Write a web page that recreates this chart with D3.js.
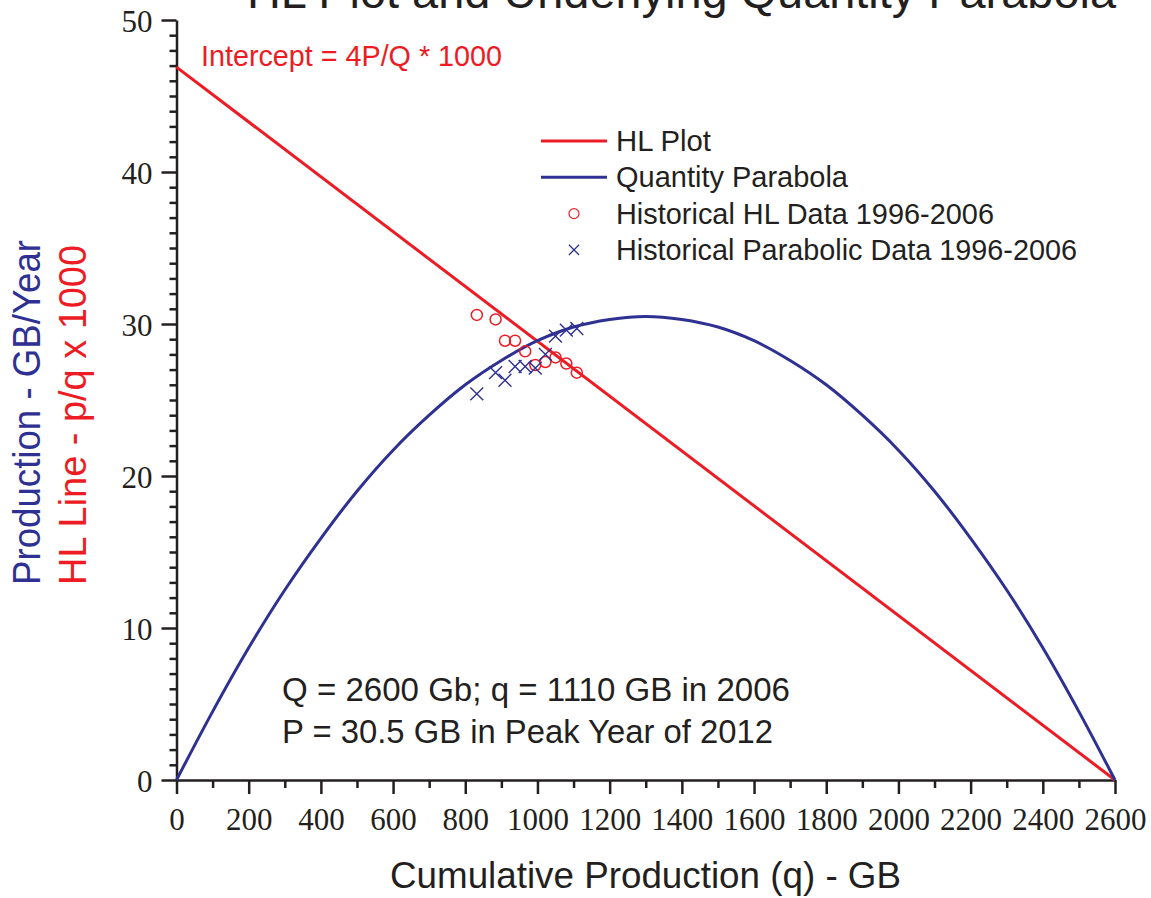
<!DOCTYPE html>
<html>
<head>
<meta charset="utf-8">
<script src="https://d3js.org/d3.v7.min.js"></script>
<style>
body { margin: 0; background: #fff; }
svg { display: block; }
.sans { font-family: "Liberation Sans", Arial, Helvetica, sans-serif; }
.axis path, .axis line { stroke: #231f20; stroke-width: 2.5; }
.axis text { fill: #231f20; font-family: "Liberation Serif", "Times New Roman", serif; font-size: 31px; }
</style>
</head>
<body>
<div id="chart"></div>
<script>
// historical data 1996-2006
var qHist = [832, 884, 910, 938, 966, 994, 1022, 1050, 1080, 1109];
var hlHist = [30.6, 30.3, 28.9, 28.9, 28.2, 27.3, 27.5, 27.8, 27.4, 26.8];
var prodHist = [25.4, 26.8, 26.3, 27.2, 27.2, 27.1, 28.0, 29.2, 29.6, 29.7];

// HL line end points
var hlLineQ = [0, 2600];
var hlLineY = [46.9, 0];

// quantity parabola, read every 100 GB
var parQ = [0, 100, 200, 300, 400, 500, 600, 700, 800, 900, 1000, 1100, 1200, 1300,
            1400, 1500, 1600, 1700, 1800, 1900, 2000, 2100, 2200, 2300, 2400, 2500, 2600];
var parP = [0, 4.5, 8.7, 12.5, 15.9, 19.0, 21.7, 24.0, 26.0, 27.6, 28.9, 29.8, 30.3, 30.5,
            30.3, 29.8, 28.9, 27.6, 26.0, 24.0, 21.7, 19.0, 15.9, 12.5, 8.7, 4.5, 0];

var xTicks = [0, 200, 400, 600, 800, 1000, 1200, 1400, 1600, 1800, 2000, 2200, 2400, 2600];
var yTicks = [0, 10, 20, 30, 40, 50];

var legendNames = ["HL Plot", "Quantity Parabola", "Historical HL Data 1996-2006", "Historical Parabolic Data 1996-2006"];

var RED = "#ed1c24", BLUE = "#2e3192", INK = "#231f20";

var svg = d3.select("#chart").append("svg")
    .attr("width", 1151)
    .attr("height", 898);

var x = d3.scaleLinear().domain([0, 2600]).range([176.5, 1115]);
var y = d3.scaleLinear().domain([0, 50]).range([780, 20]);

// minor ticks first, then major with labels
svg.append("g").attr("class", "axis").attr("transform", "translate(0,780)")
    .call(d3.axisBottom(x).tickValues(d3.range(100, 2600, 200)).tickSize(8).tickSizeOuter(0).tickFormat(""))
    .select(".domain").remove();
svg.append("g").attr("class", "axis").attr("transform", "translate(176.5,0)")
    .call(d3.axisLeft(y).tickValues(d3.range(0, 51, 1).filter(function(d){ return d % 10 != 0; })).tickSize(7).tickSizeOuter(0).tickFormat(""))
    .select(".domain").remove();

var xAxis = svg.append("g").attr("class", "axis").attr("transform", "translate(0,780)")
    .call(d3.axisBottom(x).tickValues(xTicks).tickSize(14).tickSizeOuter(0).tickPadding(14).tickFormat(d3.format("d")));
var yAxis = svg.append("g").attr("class", "axis").attr("transform", "translate(176.5,0)")
    .call(d3.axisLeft(y).tickValues(yTicks).tickSize(15).tickSizeOuter(0).tickPadding(9).tickFormat(d3.format("d")));
xAxis.selectAll("text").attr("dy", "0.71em");
yAxis.selectAll("text").attr("dy", "0.36em");

// lines
var line = d3.line().x(function(d){ return x(d[0]); }).y(function(d){ return y(d[1]); });

svg.append("path")
    .attr("d", line(d3.zip(hlLineQ, hlLineY)))
    .attr("fill", "none").attr("stroke", RED).attr("stroke-width", 3);

svg.append("path")
    .attr("d", line.curve(d3.curveCatmullRom)(d3.zip(parQ, parP)))
    .attr("fill", "none").attr("stroke", BLUE).attr("stroke-width", 3);

// historical points
svg.selectAll(".hl").data(d3.zip(qHist, hlHist)).enter().append("circle")
    .attr("class", "hl")
    .attr("cx", function(d){ return x(d[0]); })
    .attr("cy", function(d){ return y(d[1]); })
    .attr("r", 5.5)
    .attr("fill", "none").attr("stroke", RED).attr("stroke-width", 1.5);

var cross = d3.symbol().type(d3.symbolX).size(110);
svg.selectAll(".pr").data(d3.zip(qHist, prodHist)).enter().append("path")
    .attr("class", "pr")
    .attr("d", cross)
    .attr("transform", function(d){ return "translate(" + x(d[0]) + "," + y(d[1]) + ")"; })
    .attr("fill", "none").attr("stroke", BLUE).attr("stroke-width", 1.4);

// legend
var lg = svg.append("g").attr("class", "sans");
legendNames.forEach(function(name, i){
    var cy = 141 + i * 36.3;
    if (i < 2) {
        lg.append("line").attr("x1", 541).attr("x2", 607).attr("y1", cy).attr("y2", cy)
            .attr("stroke", i == 0 ? RED : BLUE).attr("stroke-width", 3);
    } else if (i == 2) {
        lg.append("circle").attr("cx", 574).attr("cy", cy).attr("r", 5)
            .attr("fill", "none").attr("stroke", RED).attr("stroke-width", 1.2);
    } else {
        lg.append("path").attr("d", d3.symbol().type(d3.symbolX).size(70))
            .attr("transform", "translate(574," + cy + ")")
            .attr("fill", "none").attr("stroke", BLUE).attr("stroke-width", 1.2);
    }
});
var legendWidths = [95, 232, 378, 461];
legendNames.forEach(function(name, i){
    lg.append("text").attr("x", 616).attr("y", 151 + i * 36.3)
        .attr("font-size", 29).attr("fill", INK)
        .attr("textLength", legendWidths[i]).attr("lengthAdjust", "spacingAndGlyphs")
        .text(name);
});

// title (cut at top, as in the source)
svg.append("text").attr("class", "sans")
    .attr("x", 247).attr("y", 8)
    .attr("font-size", 47).attr("fill", INK)
    .attr("textLength", 869).attr("lengthAdjust", "spacingAndGlyphs")
    .text("HL Plot and Underlying Quantity Parabola");

// intercept note
svg.append("text").attr("class", "sans")
    .attr("x", 201).attr("y", 66)
    .attr("font-size", 30).attr("fill", RED)
    .attr("textLength", 301).attr("lengthAdjust", "spacingAndGlyphs")
    .text("Intercept = 4P/Q * 1000");

// bottom notes
svg.append("text").attr("class", "sans")
    .attr("x", 282).attr("y", 701)
    .attr("font-size", 34).attr("fill", INK)
    .attr("textLength", 508).attr("lengthAdjust", "spacingAndGlyphs")
    .text("Q = 2600 Gb; q = 1110 GB in 2006");
svg.append("text").attr("class", "sans")
    .attr("x", 282).attr("y", 743)
    .attr("font-size", 34).attr("fill", INK)
    .attr("textLength", 491).attr("lengthAdjust", "spacingAndGlyphs")
    .text("P = 30.5 GB in Peak Year of 2012");

// axis titles
svg.append("text").attr("class", "sans")
    .attr("x", 390).attr("y", 888)
    .attr("font-size", 37).attr("fill", INK)
    .attr("textLength", 511).attr("lengthAdjust", "spacingAndGlyphs")
    .text("Cumulative Production (q) - GB");

svg.append("text").attr("class", "sans")
    .attr("transform", "translate(40,585) rotate(-90)")
    .attr("font-size", 38).attr("fill", BLUE)
    .attr("textLength", 345).attr("lengthAdjust", "spacingAndGlyphs")
    .text("Production - GB/Year");

svg.append("text").attr("class", "sans")
    .attr("transform", "translate(86,585) rotate(-90)")
    .attr("font-size", 38).attr("fill", RED)
    .attr("textLength", 340).attr("lengthAdjust", "spacingAndGlyphs")
    .text("HL Line - p/q x 1000");
</script>
</body>
</html>
